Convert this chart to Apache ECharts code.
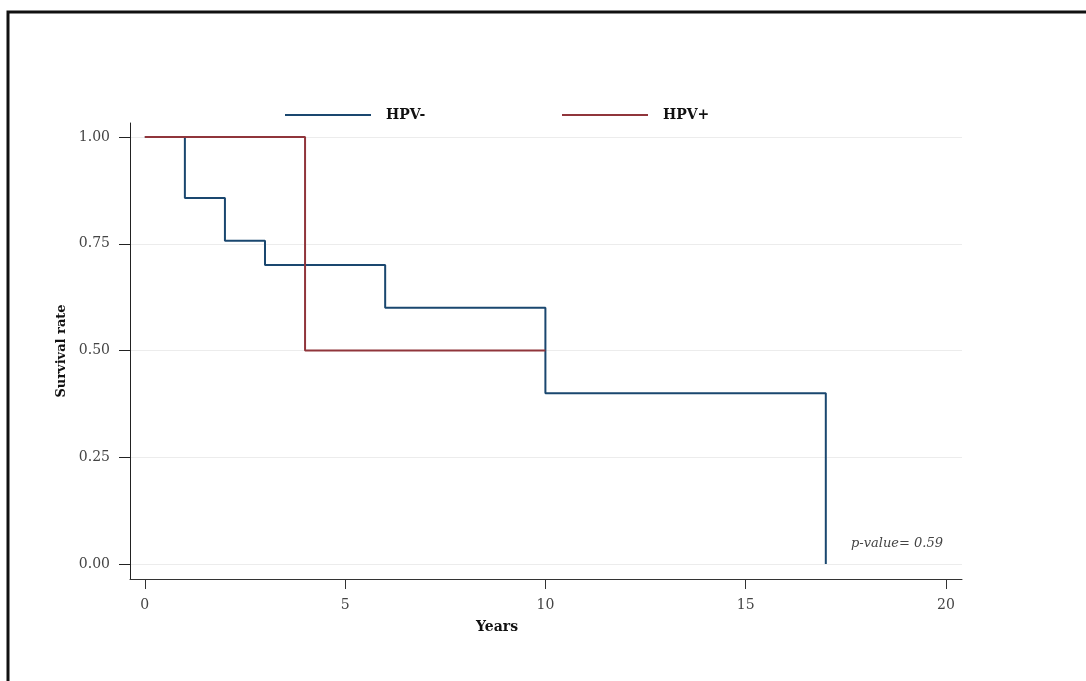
<!DOCTYPE html>
<html>
<head>
<meta charset="utf-8">
<script src="https://cdn.jsdelivr.net/npm/echarts@6/dist/echarts.min.js"></script>
<style>
html,body{margin:0;padding:0;background:#fff;}
#c{width:1086px;height:681px;}
</style>
</head>
<body>
<div id="c"></div>
<script>
// Data
const seriesNames = ['HPV-', 'HPV+'];
const hpvNegX = [0, 1, 2, 3, 6, 10, 17];
const hpvNegY = [1, 0.857, 0.757, 0.70, 0.60, 0.40, 0];
const hpvPosX = [0, 4, 10];
const hpvPosY = [1, 0.50, 0.50];
const xTicks = [0, 5, 10, 15, 20];
const yTicks = [0, 0.25, 0.5, 0.75, 1];
const pValueText = 'p-value= 0.59';

const serif = 'DejaVu Serif';
const chart = echarts.init(document.getElementById('c'));
chart.setOption({
  animation: false,
  backgroundColor: '#fff',
  grid: {left: 130, right: 124, top: 123, bottom: 102},
  legend: [
    {data: [seriesNames[0]], left: 280, top: 103, icon: 'rect', itemWidth: 86, itemHeight: 2,
     textStyle: {fontFamily: serif, fontWeight: 'bold', fontSize: 14, color: '#111', padding: [0,0,0,10]}},
    {data: [seriesNames[1]], left: 557, top: 103, icon: 'rect', itemWidth: 86, itemHeight: 2,
     textStyle: {fontFamily: serif, fontWeight: 'bold', fontSize: 14, color: '#111', padding: [0,0,0,10]}}
  ],
  xAxis: {
    type: 'value', min: -0.37, max: 20.4,
    axisLine: {show: true, onZero: false, lineStyle: {color: '#333', width: 1}},
    axisTick: {show: true, length: 10, customValues: xTicks, lineStyle: {color: '#333'}},
    axisLabel: {customValues: xTicks, margin: 19, fontFamily: serif, fontSize: 14, color: '#444'},
    splitLine: {show: false}
  },
  yAxis: {
    type: 'value', min: -0.0351, max: 1.0328,
    axisLine: {show: true, onZero: false, lineStyle: {color: '#222', width: 1}},
    axisTick: {show: true, length: 11, customValues: yTicks, lineStyle: {color: '#222'}},
    axisLabel: {customValues: yTicks, margin: 20, fontFamily: serif, fontSize: 14, color: '#444',
                formatter: v => v.toFixed(2)},
    splitLine: {show: true, lineStyle: {color: '#ececec', width: 1}},
    name: 'Survival rate', nameLocation: 'middle', nameGap: 60,
    nameTextStyle: {fontFamily: serif, fontWeight: 'bold', fontSize: 13, color: '#111'}
  },
  series: [
    {name: seriesNames[0], type: 'line', step: 'end', symbol: 'none',
     lineStyle: {color: '#1a476f', width: 2}, itemStyle: {color: '#1a476f'},
     data: hpvNegX.map((x, i) => [x, hpvNegY[i]])},
    {name: seriesNames[1], type: 'line', step: 'end', symbol: 'none',
     lineStyle: {color: '#90353b', width: 2}, itemStyle: {color: '#90353b'},
     data: hpvPosX.map((x, i) => [x, hpvPosY[i]])}
  ],
  graphic: [
    {type: 'rect', shape: {x: 8, y: 12, width: 1100, height: 700}, style: {fill: 'none', stroke: '#111', lineWidth: 3}, silent: true},
    {type: 'text', left: 476, top: 620, style: {text: 'Years', font: 'bold 14px "DejaVu Serif"', fill: '#111'}},
    {type: 'text', left: 851, top: 537, style: {text: pValueText, font: 'italic 13px "DejaVu Serif"', fill: '#444'}}
  ]
});
</script>
</body>
</html>
